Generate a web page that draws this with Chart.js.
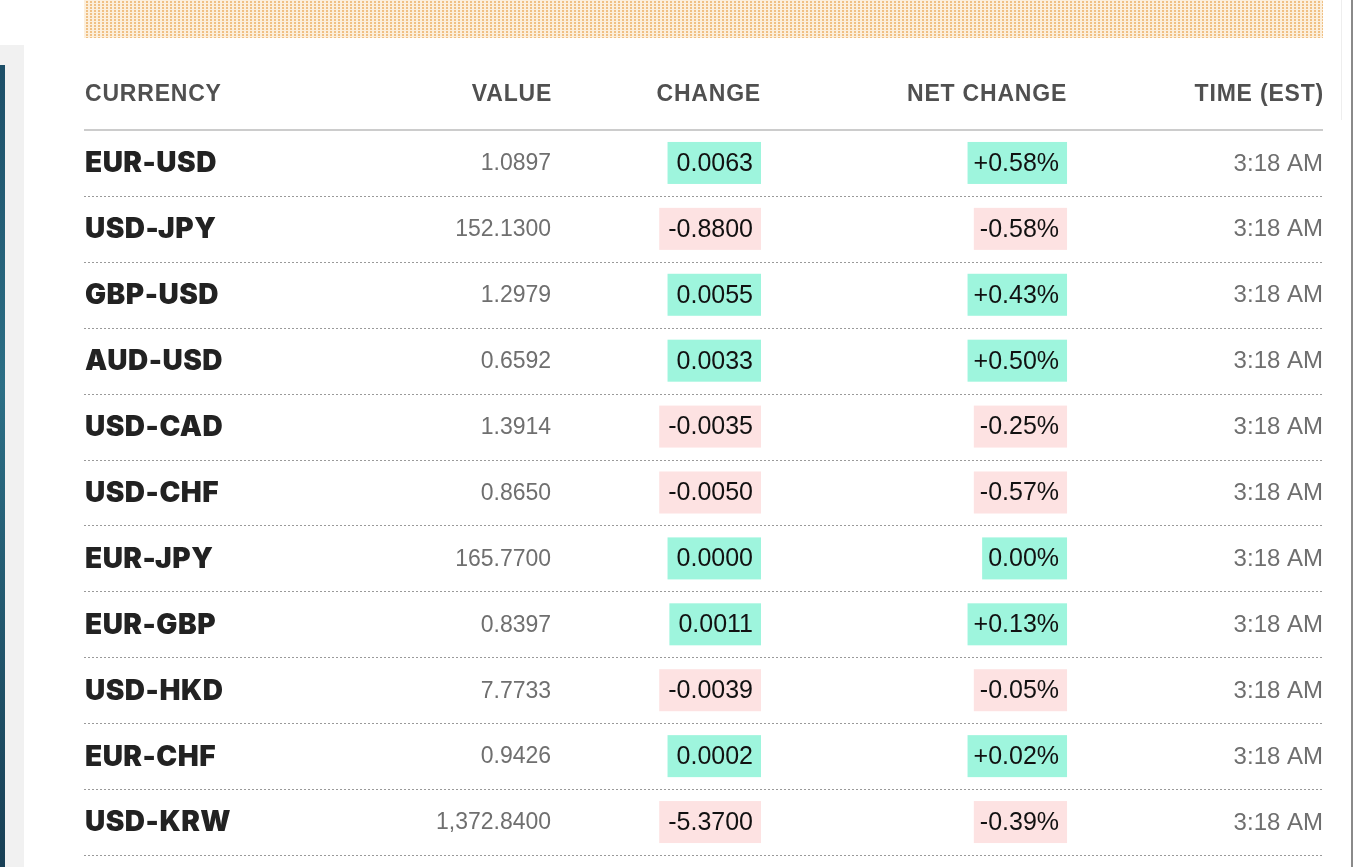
<!DOCTYPE html>
<html lang="en">

<head>
  <meta charset="UTF-8" />
  <title>Currencies</title>
  <script src="https://cdn.jsdelivr.net/npm/chart.js@4.4.0/dist/chart.umd.min.js"></script>
  <style>
    html, body { margin: 0; padding: 0; background: #fff; overflow: hidden; }
    .page { position: relative; width: 1354px; height: 867px; }
    .side { position: absolute; left: 0; top: 45px; width: 24px; bottom: 0; background: #f1f1f1; }
    .side-img { position: absolute; left: 0; top: 65px; width: 5px; bottom: 0; background: linear-gradient(#1d4f68, #2c6f86 40%, #183f55); }
    .dots {
      position: absolute; left: 84px; top: 0; width: 1239px; height: 38px;
      background-color: #f0c084;
      background-image: linear-gradient(90deg, #fcefdc 2px, transparent 2px), linear-gradient(#fcefdc 1px, transparent 1px);
      background-size: 4px 3px;
    }
    .edge { position: absolute; right: 1px; top: 0; bottom: 0; width: 2px; background: #8a8a8a; }
    .edge2 { position: absolute; right: 12px; top: 0; height: 120px; width: 1px; background: #eee; }
    .chart-wrapper { position: absolute; left: 0; top: 0; width: 1354px; height: 867px; }
  </style>
</head>

<body>
  <div class="page">
    <div class="side"></div>
    <div class="side-img"></div>
    <div class="dots"></div>
    <div class="edge2"></div>
    <div class="edge"></div>
    <div class="chart-wrapper">
      <canvas id="fx-table" width="1354" height="867"></canvas>
    </div>
  </div>

<script>
  // table data
  const headers = ['CURRENCY', 'VALUE', 'CHANGE', 'NET CHANGE', 'TIME (EST)'];
  const pairs = ['EUR-USD', 'USD-JPY', 'GBP-USD', 'AUD-USD', 'USD-CAD', 'USD-CHF',
    'EUR-JPY', 'EUR-GBP', 'USD-HKD', 'EUR-CHF', 'USD-KRW'];
  const values = ['1.0897', '152.1300', '1.2979', '0.6592', '1.3914', '0.8650',
    '165.7700', '0.8397', '7.7733', '0.9426', '1,372.8400'];
  const changes = [0.0063, -0.8800, 0.0055, 0.0033, -0.0035, -0.0050,
    0.0000, 0.0011, -0.0039, 0.0002, -5.3700];
  const netChanges = [0.58, -0.58, 0.43, 0.50, -0.25, -0.57,
    0.00, 0.13, -0.05, 0.02, -0.39];
  const times = ['3:18 AM', '3:18 AM', '3:18 AM', '3:18 AM', '3:18 AM', '3:18 AM',
    '3:18 AM', '3:18 AM', '3:18 AM', '3:18 AM', '3:18 AM'];

  // column anchors on the x scale (0 = left edge of table, 1 = right edge)
  const colPos = [0, 0.377, 0.5456, 0.7926, 1];
  const colAlign = ['left', 'right', 'right', 'right', 'right'];

  const fmtChange = v => v.toFixed(4);
  const fmtNet = v => (v > 0 ? '+' : '') + v.toFixed(2) + '%';

  const cellText = [
    pairs,
    values,
    changes.map(fmtChange),
    netChanges.map(fmtNet),
    times
  ];
  const cellNums = [null, null, changes, netChanges, null];

  const GREEN = 'rgb(158, 245, 221)';
  const PINK = 'rgb(253, 226, 226)';

  const tablePlugin = {
    id: 'tablePlugin',
    beforeDatasetsDraw(chart) {
      const ctx = chart.ctx;
      const y = chart.scales.y;
      const x = chart.scales.x;
      const area = chart.chartArea;
      ctx.save();

      // header labels
      ctx.font = 'bold 23px "Liberation Sans", Arial, sans-serif';
      ctx.letterSpacing = '0.8px';
      ctx.fillStyle = '#505050';
      ctx.textBaseline = 'middle';
      headers.forEach((h, c) => {
        ctx.textAlign = colAlign[c];
        const px = x.getPixelForValue(colPos[c]) + 1;
        ctx.fillText(h, px, area.top - 35);
      });
      ctx.letterSpacing = '0px';

      // row separators
      ctx.strokeStyle = '#9a9a9a';
      ctx.lineWidth = 1;
      ctx.setLineDash([2, 2]);
      for (let i = 0; i < pairs.length; i++) {
        const py = Math.round(y.getPixelForValue(i + 0.5)) + 0.5;
        ctx.beginPath();
        ctx.moveTo(area.left, py);
        ctx.lineTo(area.right, py);
        ctx.stroke();
      }
      ctx.setLineDash([]);
      ctx.strokeStyle = '#cccccc';
      ctx.lineWidth = 2;
      ctx.beginPath();
      ctx.moveTo(area.left, y.getPixelForValue(-0.5));
      ctx.lineTo(area.right, y.getPixelForValue(-0.5));
      ctx.stroke();
      ctx.restore();
    },
    afterDatasetsDraw(chart) {
      const ctx = chart.ctx;
      ctx.save();
      ctx.textBaseline = 'middle';
      chart.data.datasets.forEach((ds, c) => {
        const meta = chart.getDatasetMeta(c);
        meta.data.forEach((pt, i) => {
          const txt = cellText[c][i];
          const px = pt.x, py = pt.y;
          if (c === 0) {
            ctx.font = '900 28px Inter, "Liberation Sans", sans-serif';
            ctx.letterSpacing = '0.5px';
            ctx.fillStyle = '#222';
            ctx.textAlign = 'left';
            ctx.fillText(txt, px + 1, py + 1);
            ctx.letterSpacing = '0px';
          } else if (cellNums[c]) {
            ctx.font = '25px "Liberation Sans", Arial, sans-serif';
            const w = ctx.measureText(txt).width;
            const v = cellNums[c][i];
            ctx.fillStyle = v < 0 ? PINK : GREEN;
            const padL = c === 3 ? 13 : 16;
            ctx.fillRect(px - w - padL, py - 21, w + padL + 1, 42);
            ctx.fillStyle = '#111';
            ctx.textAlign = 'right';
            ctx.fillText(txt, px - 7, py + 1);
          } else {
            ctx.font = (c === 1 ? 23 : 24) + 'px "Liberation Sans", Arial, sans-serif';
            ctx.fillStyle = '#6f6f6f';
            ctx.textAlign = 'right';
            ctx.fillText(txt, px, py + 1);
          }
        });
      });
      ctx.restore();
    }
  };

  const myChart = new Chart(
    document.getElementById('fx-table').getContext('2d'), {
      type: 'scatter',
      data: {
        datasets: cellText.map((col, c) => ({
          label: headers[c],
          data: col.map((_, i) => ({ x: colPos[c], y: i })),
          pointRadius: 0,
          pointHoverRadius: 0
        }))
      },
      options: {
        responsive: false,
        animation: false,
        devicePixelRatio: 1,
        layout: {
          padding: { left: 84, right: 31, top: 130, bottom: 12 }
        },
        plugins: {
          legend: { display: false },
          tooltip: { enabled: false }
        },
        scales: {
          x: { type: 'linear', min: 0, max: 1, display: false },
          y: { type: 'linear', min: -0.5, max: pairs.length - 0.5, reverse: true, display: false }
        }
      },
      plugins: [tablePlugin]
    });
</script>
</body>

</html>
